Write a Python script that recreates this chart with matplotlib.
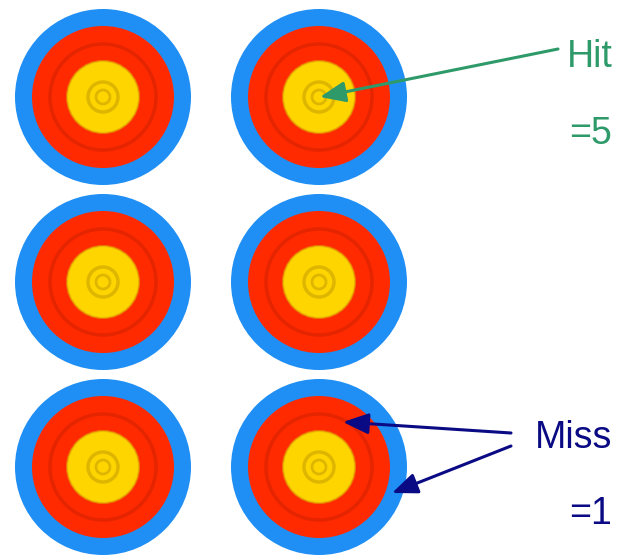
import matplotlib
matplotlib.use("Agg")
import matplotlib.pyplot as plt
from matplotlib.patches import Circle, FancyArrowPatch

plt.rcParams['font.family'] = ['Liberation Sans', 'DejaVu Sans']

# Target layout (column x, row y in pixels)
col_x = [103, 319]
row_y = [97, 282, 467]

# Ring radii (px) and fill colours, outer to inner
ring_radii = [88, 71, 36]
ring_colors = ['#1f8ff5', '#ff2a00', '#ffd500']
# Thin darker ring lines: (radius, colour, width)
line_radii = [53, 36, 15, 7]
line_colors = ['#d42000', '#e0a800', '#c8a200', '#c8a200']
line_widths = [2.5, 1.5, 2.5, 2.0]
line_alpha = [0.6, 0.6, 0.6, 0.6]

labels_hit = ['Hit', '=5']
labels_miss = ['Miss', '=1']
hit_color = '#2e9a6a'
miss_color = '#0a0a85'

fig = plt.figure(figsize=(6.28, 5.55), dpi=100)
ax = fig.add_axes([0, 0, 1, 1])
ax.set_xlim(0, 628)
ax.set_ylim(555, 0)
ax.set_aspect('equal')
ax.axis('off')

for cy in row_y:
    for cx in col_x:
        for r, c in zip(ring_radii, ring_colors):
            ax.add_patch(Circle((cx, cy), r, facecolor=c, edgecolor='none', zorder=1))
        for r, c, w, a in zip(line_radii, line_colors, line_widths, line_alpha):
            ax.add_patch(Circle((cx, cy), r, facecolor='none', edgecolor=c, lw=w, alpha=a, zorder=2))

def arrow(p0, p1, color):
    a = FancyArrowPatch(p0, p1, arrowstyle='-|>,head_length=1.1,head_width=0.45',
                        mutation_scale=14, color=color, lw=2.2, zorder=5,
                        shrinkA=0, shrinkB=0)
    ax.add_patch(a)

arrow((558, 49), (320, 97), hit_color)
arrow((511, 433), (343, 422), miss_color)
arrow((511, 446), (392, 493), miss_color)

fs = 27
ax.text(567, 57, labels_hit[0], color=hit_color, fontsize=fs, ha='left', va='center')
ax.text(569, 134, labels_hit[1], color=hit_color, fontsize=fs, ha='left', va='center')
ax.text(535, 438, labels_miss[0], color=miss_color, fontsize=fs, ha='left', va='center')
ax.text(569, 514, labels_miss[1], color=miss_color, fontsize=fs, ha='left', va='center')

fig.savefig('out.png', dpi=100, facecolor='white')
